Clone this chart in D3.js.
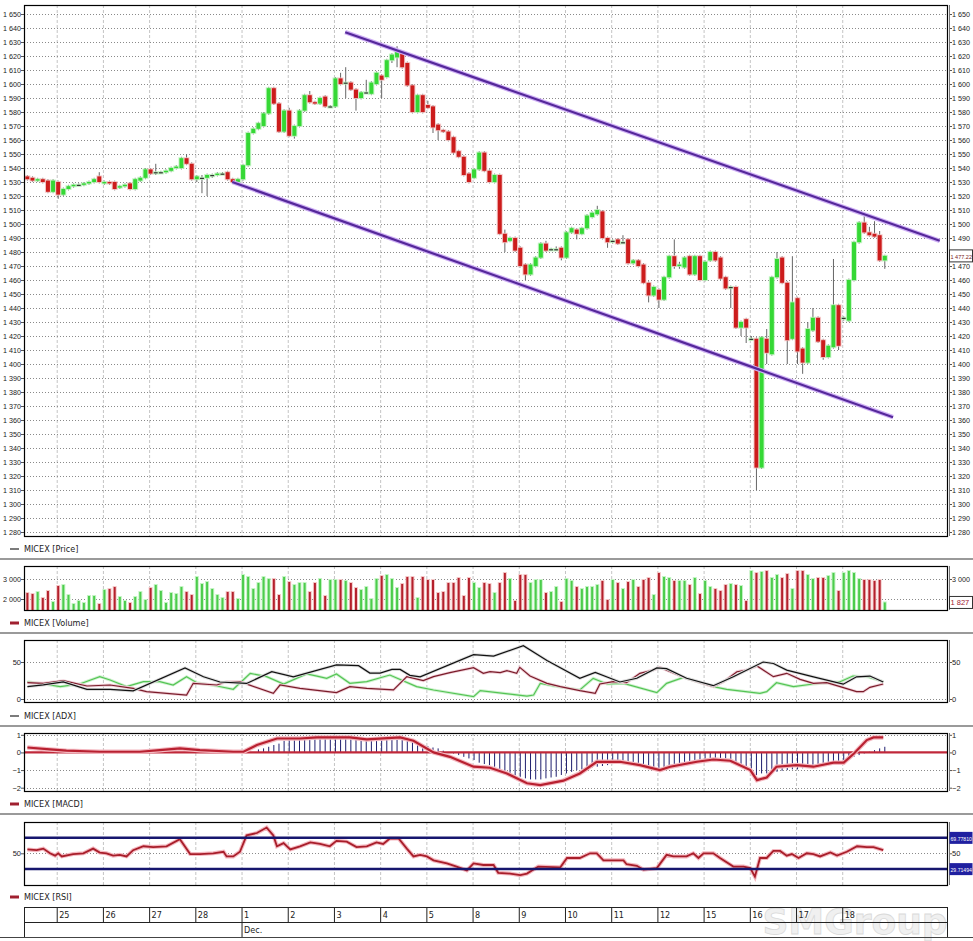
<!DOCTYPE html>
<html>
<head>
<meta charset="utf-8">
<script src="https://cdn.jsdelivr.net/npm/d3@7"></script>
<style>
  body { margin: 0; background: #fff; }
  text { font-family: "Liberation Sans Narrow", "DejaVu Sans Condensed", "Liberation Sans", sans-serif; font-size: 9px; fill: #222; }
  .tick text, .side text { font-family: "Liberation Sans", sans-serif; font-size: 7.5px; }
</style>
</head>
<body>
<svg id="chart" width="973" height="941"></svg>
<script>
// ---- data (index = hourly bar, 9 bars per day) ----
const dayLabels = ['25', '26', '27', '28', '1', '2', '3', '4', '5', '8', '9', '10', '11', '12', '15', '16', '17', '18'];
const dayStart = [6, 15, 24, 33, 42, 51, 60, 69, 78, 87, 96, 105, 114, 123, 132, 141, 150, 159];
const monthLabels = [{ label: 'Dec.', start: 42 }];

// [open, high, low, close]
const candles = [
  [1534,1535,1531,1532],[1533,1534,1530,1531],[1531,1533,1530,1532],[1532,1533,1529,1530],[1531,1532,1522,1523],
  [1523,1532,1522,1531],[1530,1531,1518,1521],[1521,1526,1520,1525],[1525,1528,1524,1527],[1527,1529,1526,1528],
  [1528,1529,1527,1528],[1528,1530,1527,1529],[1529,1531,1528,1530],[1530,1533,1529,1532],[1534,1537,1529,1530],
  [1529,1531,1528,1530],[1530,1531,1528,1529],[1530,1531,1524,1525],[1526,1528,1525,1527],[1527,1529,1526,1528],
  [1529,1530,1524,1525],[1525,1533,1524,1532],[1531,1534,1530,1533],[1533,1540,1532,1539],[1539,1540,1535,1536],
  [1537,1543,1535,1537],[1537,1538,1536,1537],[1537,1539,1536,1538],[1538,1541,1537,1540],[1540,1542,1539,1541],
  [1540,1548,1539,1547],[1547,1550,1542,1543],[1543,1544,1531,1532],[1532,1535,1530,1534],[1533,1535,1522,1533],
  [1533,1536,1520,1535],[1535,1536,1533,1535],[1535,1537,1534,1536],[1536,1537,1535,1536],[1537,1538,1531,1532],
  [1532,1533,1529,1530],[1530,1533,1529,1532],[1532,1543,1531,1542],[1542,1566,1541,1565],[1565,1569,1564,1568],
  [1568,1573,1567,1572],[1570,1580,1569,1579],[1579,1598,1578,1597],[1597,1598,1585,1586],[1586,1587,1565,1566],
  [1566,1582,1565,1581],[1581,1583,1562,1563],[1563,1571,1561,1570],[1570,1582,1569,1581],[1581,1593,1580,1592],
  [1592,1595,1586,1587],[1587,1588,1585,1586],[1586,1591,1585,1590],[1591,1592,1583,1584],[1584,1585,1583,1584],
  [1584,1605,1583,1604],[1604,1608,1599,1600],[1601,1612,1590,1601],[1601,1602,1595,1596],[1596,1597,1581,1590],
  [1590,1595,1589,1594],[1594,1603,1593,1594],[1593,1602,1592,1601],[1600,1609,1599,1608],[1606,1607,1590,1603],
  [1605,1618,1604,1617],[1617,1622,1615,1621],[1619,1627,1612,1624],[1623,1624,1611,1612],[1615,1616,1598,1599],
  [1599,1600,1579,1580],[1580,1593,1579,1592],[1592,1593,1579,1580],[1585,1588,1582,1583],[1584,1585,1565,1569],
  [1571,1572,1560,1567],[1567,1568,1565,1566],[1566,1567,1559,1560],[1562,1563,1550,1551],[1552,1553,1547,1548],
  [1548,1549,1534,1535],[1536,1537,1529,1530],[1533,1540,1532,1539],[1539,1552,1538,1551],[1551,1552,1537,1538],
  [1538,1539,1529,1530],[1530,1536,1529,1535],[1535,1536,1492,1493],[1493,1496,1480,1487],[1488,1491,1487,1490],
  [1490,1491,1480,1481],[1483,1484,1469,1470],[1471,1472,1460,1464],[1464,1472,1463,1471],[1470,1477,1469,1476],
  [1476,1487,1475,1486],[1486,1488,1480,1481],[1482,1483,1481,1482],[1482,1484,1481,1482],[1483,1484,1474,1476],
  [1476,1495,1475,1494],[1494,1498,1493,1497],[1496,1497,1489,1493],[1493,1498,1492,1497],[1497,1507,1496,1506],
  [1505,1509,1504,1508],[1507,1513,1506,1510],[1509,1510,1489,1490],[1490,1491,1483,1487],[1488,1489,1486,1488],
  [1489,1490,1485,1486],[1487,1492,1486,1487],[1489,1490,1471,1472],[1472,1475,1471,1474],[1474,1475,1469,1470],
  [1471,1472,1457,1458],[1458,1459,1444,1449],[1449,1456,1448,1455],[1453,1454,1440,1446],[1446,1463,1445,1462],
  [1462,1478,1461,1477],[1477,1489,1468,1470],[1470,1473,1468,1471],[1469,1477,1468,1476],[1477,1478,1463,1464],
  [1464,1478,1463,1477],[1477,1478,1459,1460],[1460,1474,1459,1473],[1474,1481,1473,1480],[1480,1481,1473,1474],
  [1476,1477,1460,1461],[1462,1463,1453,1454],[1455,1456,1440,1455],[1455,1456,1425,1426],[1426,1431,1420,1430],
  [1432,1433,1415,1426],[1418,1420,1417,1418],[1418,1419,1310,1326],[1326,1420,1325,1419],[1418,1425,1400,1408],
  [1407,1463,1406,1462],[1462,1480,1461,1475],[1476,1477,1457,1458],[1458,1459,1400,1417],[1418,1477,1417,1444],
  [1447,1448,1400,1409],[1411,1412,1393,1401],[1401,1430,1400,1425],[1424,1440,1423,1433],[1433,1434,1415,1416],
  [1417,1418,1403,1405],[1405,1414,1404,1413],[1412,1475,1411,1442],[1442,1443,1410,1413],[1433,1434,1431,1433],
  [1431,1461,1430,1460],[1460,1488,1459,1487],[1487,1502,1486,1501],[1501,1506,1493,1494],[1494,1498,1491,1492],
  [1493,1502,1490,1491],[1492,1495,1473,1474],[1474,1478,1468,1477.22]
];

const volume = [
  2300,2250,2350,2050,2400,1850,2650,2700,2200,1750,1900,1800,2150,2150,1750,2450,2500,2600,2100,1900,
  1800,2100,2350,1950,2550,2700,2400,1800,2300,2250,2600,2350,2200,3100,2750,2850,2500,2200,2050,2350,
  2350,2000,3200,3100,2500,2800,3100,3000,3000,2200,3100,2850,2700,2800,2800,2350,2800,3000,2150,2950,
  2950,2950,2900,2800,2550,2450,2600,2000,3000,3150,3200,3000,2550,2750,3100,3100,2050,3100,2950,2950,
  2300,2350,2800,2800,3050,2150,3050,2800,2550,2800,2750,2300,2800,3300,3000,1900,3200,3200,2800,2950,
  2950,2300,2350,2600,1850,3000,2900,2600,2500,2600,2600,2700,2900,1950,2950,2800,2500,2850,2950,2600,
  2950,3050,2200,3300,3100,3050,2900,2900,2900,2700,3050,2250,2900,2600,2500,2400,2700,2750,2700,2650,
  1900,3400,3300,3350,3400,3050,3200,3050,3250,2500,3400,3400,3200,3000,3050,3050,3150,3300,2400,3300,
  3400,3300,3000,2950,2950,2900,2950,1827
];

// indicator lines as [bar index, value] breakpoints
const adx = [[0,16.7],[3.1,19],[7,23],[11.6,13],[16.1,13],[20.6,11],[30.7,42],[34.3,30],[37.5,23],[42.7,21],
  [47.6,37],[51.8,30],[60.2,46],[64.5,45],[66.7,35],[68.7,35],[71,40],[72.6,40],[74.5,32],[76.5,30],[86.9,60],
  [90.8,58],[96.6,72],[101.2,52],[107.6,28],[110.6,36],[115.4,23],[118.7,28],[122.6,42],[124.5,41],[128.4,28],
  [133.6,18],[137.5,30],[143.3,50],[145.3,48],[147.9,39],[153.1,30],[158.9,20],[161.5,30],[164.1,31],[166.7,23]];
const plusDI = [[0,23.4],[3.1,20.3],[6.4,16.7],[10.2,20.3],[14.1,30.2],[16.1,25.7],[19.3,16.7],[22.6,23.4],
  [25.8,23.4],[28.4,18.9],[31,30.2],[33,22],[36.9,17.6],[40.1,13.1],[43.4,34.7],[46.6,30.2],[49.9,20.3],
  [54.4,34],[56.4,31],[58.3,27.9],[60.2,33.8],[62.8,21.2],[66.1,23.4],[70.6,32.4],[75.8,16.7],[79.1,12.2],
  [86.9,3.2],[88.2,11.3],[97.3,4],[98.6,5.4],[99.9,21.2],[102.5,17.6],[107.6,12.2],[110.2,27.9],[112.9,20.3],
  [116.1,21.2],[122.6,8.6],[124.5,21.2],[127.8,29.3],[133.6,16.7],[136.2,13.1],[142.7,7.7],[144,9.9],
  [145.9,22],[149.2,16.7],[153.1,20.3],[158.3,23.4],[160.8,31],[163.5,30.2],[166.7,23.4]];
const minusDI = [[0,22],[3.1,21.2],[7,24.8],[11.6,17.6],[16.1,18.9],[20.6,14.4],[23.2,9.9],[31,5.4],[32.3,21.2],
  [36.9,18.9],[38.8,23.4],[41.4,23.4],[47.9,7.7],[49.2,18.9],[53.1,14.4],[60.2,8.6],[62.8,16.7],[66.1,14.4],
  [71.3,12.2],[73.9,30.2],[77.1,24.8],[79.1,30.2],[82.3,35.6],[86.9,42.3],[88.8,34.7],[90.1,36.9],[92.1,35.6],
  [93.4,38.3],[95.3,34.7],[95.9,42.8],[97.9,31.1],[101.2,21.2],[103.8,16.7],[107.6,11.3],[110.6,7.7],
  [111.5,20.3],[114.1,23.4],[116.7,22],[119.3,34.7],[121.9,39.2],[123.2,42.8],[125.2,36.9],[128.4,27.9],
  [133.6,16.7],[135.6,23.4],[138.2,36.9],[140.1,39.2],[142.1,44.6],[145.3,30.2],[147.9,34.7],[150.5,26.6],
  [153.1,21.2],[155.7,22],[158.3,16.7],[161.5,9.9],[162.8,9.9],[164.1,15.8],[166.7,20.3]];

const macdLine = [[0,0.28],[4.4,0.17],[7.6,0.1],[14.1,0.04],[21.9,0.04],[25.8,0.13],[29.7,0.23],[33.6,0.13],
  [40.1,0.04],[42.1,0.04],[44.7,0.42],[48.6,0.79],[53.1,0.79],[56.4,0.85],[62.8,0.85],[66.1,0.74],[72.6,0.85],
  [75.2,0.66],[79.1,0],[82.3,-0.25],[86.9,-0.81],[90.1,-0.87],[93.4,-1.19],[97.3,-1.75],[99.9,-1.85],
  [104.4,-1.6],[107.6,-1.19],[110.9,-0.53],[115.4,-0.53],[119.3,-0.72],[123.2,-1.0],[125.2,-0.81],
  [130.4,-0.53],[133.6,-0.4],[136.9,-0.47],[140.8,-1.0],[142.1,-1.57],[144,-1.42],[145.9,-0.81],
  [149.8,-0.72],[153.1,-0.81],[157,-0.58],[159,-0.58],[161,-0.06],[163.5,0.7],[164.8,0.85],[166.7,0.85]];
const macdHist = [
  0,0,0,0,0,0,0,0,0,0,0,0,0,0,0,0,0,0,0,0,0,0,0,0,0,0,0,0,0,0,0,0,0,0,0,0,0,0,0,0,0,0,0,0,0,
  0.17,0.23,0.32,0.42,0.5,0.66,0.7,0.74,0.74,0.8,0.8,0.85,0.8,0.78,0.8,0.85,0.85,0.82,0.8,0.76,
  0.75,0.78,0.8,0.8,0.8,0.82,0.85,0.85,0.8,0.7,0.6,0.5,0.47,0.36,0.28,0.23,0.1,0,-0.06,-0.15,
  -0.25,-0.34,-0.43,-0.58,-0.66,-0.72,-0.81,-1.0,-1.1,-1.19,-1.28,-1.38,-1.47,-1.53,-1.53,-1.53,-1.47,-1.42,-1.38,-1.28,
  -1.19,-1.1,-1.0,-0.96,-0.9,-0.85,-0.81,-0.77,-0.72,-0.66,-0.62,-0.62,-0.66,-0.72,-0.77,-0.85,-0.9,-0.96,-1.0,-0.9,
  -0.81,-0.77,-0.72,-0.66,-0.62,-0.58,-0.53,-0.53,-0.47,-0.47,-0.47,-0.53,-0.58,-0.66,-0.77,-0.85,-0.96,-1.28,-1.19,-1.19,
  -1.15,-1.1,-1.04,-1.0,-0.96,-0.96,-0.9,-0.85,-0.81,-0.77,-0.72,-0.66,-0.58,-0.53,-0.43,-0.34,-0.25,-0.15,-0.06,0.04,
  0.13,0.23,0.32
];

const rsi = [[0,55],[1.8,54],[3.1,56],[4.4,50],[5.4,47],[6,50],[6.7,46],[8.9,49],[10.9,50],[12.8,56],[14.1,51],
  [15.4,50],[16.7,47],[18,48],[19.3,46],[20.6,54],[22.6,59],[24.5,58],[27.1,59],[29.7,68],[31.7,49],[33.6,49],
  [36.2,50],[38.2,52],[38.8,46],[40.1,46],[41.4,52],[42.7,73],[44.7,76],[46.6,83],[47.9,73],[48.6,59],[49.9,63],
  [51.2,55],[53.1,59],[55.1,64],[57,62],[58.9,59],[60.2,66],[62.2,65],[64.1,58],[66.1,59],[68,64],[69.3,62],
  [70.6,69],[72.3,69],[73.9,56],[75.2,46],[76.5,48],[77.8,46],[79.1,41],[81.7,37],[83.6,33],[85.6,28],[86.9,37],
  [88.8,35],[90.8,35],[91.7,25],[94,24],[96,22],[97.3,24],[99.5,33],[103.8,32],[105.1,44],[107.6,44],[109.6,50],
  [110.9,50],[112.2,41],[116.1,41],[116.7,36],[118.7,34],[120,29],[122.6,31],[124.5,48],[125.8,46],[128.4,46],
  [129.7,50],[130.7,44],[131.7,50],[133.6,50],[134.9,44],[137.5,33],[139.5,33],[140.8,31],[141.7,20],[142.7,44],
  [144,44],[145.3,53],[146.6,53],[147.9,47],[148.9,49],[150.2,44],[151.8,50],[153.1,49],[154.4,46],[156.4,51],
  [157.7,47],[159.6,52],[161.6,59],[163.5,58],[164.8,58],[166.7,54]];
const rsiLevels = [69.7781, 29.71494];
const rsiLevelLabels = ['69.77810', '29.71494'];

// channel lines [bar index, price]
const channelUpper = [[61.9, 1637], [177.7, 1488]];
const channelLower = [[39.9, 1530], [168.6, 1362]];

const priceTicks = d3.range(1280, 1651, 10);
const volumeTicks = [2000, 3000];
const adxTicks = [0, 50];
const macdTicks = [-2, -1, 0, 1];
const rsiTicks = [50];

// ---- layout ----
const L = 24, R = 947, AX = 949;
const locale = d3.formatLocale({ decimal: '.', thousands: ' ', grouping: [3], currency: ['', ''] });
const fmt = locale.format(',');
const svg = d3.select('#chart');
const x = d3.scaleLinear().domain([0, 167]).range([27.4, 884.8]);
const dayX = i => x(i) - 1;

const lastClose = candles[candles.length - 1][3];
const lastVol = volume[volume.length - 1];

const panes = {
  price: { top: 5, bottom: 536, y: d3.scaleLinear().domain([1280, 1650]).range([532, 14]), ticks: priceTicks, boxAt: lastClose },
  vol: { top: 566, bottom: 610, y: d3.scaleLinear().domain([2000, 3000]).range([599, 579]), ticks: volumeTicks, boxAt: lastVol },
  adx: { top: 640, bottom: 702, y: d3.scaleLinear().domain([0, 50]).range([699, 662]), ticks: adxTicks },
  macd: { top: 733, bottom: 791, y: d3.scaleLinear().domain([-2, 1]).range([787.7, 734.8]), ticks: macdTicks },
  rsi: { top: 822, bottom: 885, y: d3.scaleLinear().domain([30, 70]).range([868.9, 837.7]), ticks: rsiTicks }
};

// shrink the font of a label until it fits the room next to the axis
function fit(sel, maxW) {
  sel.each(function() {
    const w = this.getComputedTextLength();
    if (w > maxW) {
      const fs = parseFloat(getComputedStyle(this).fontSize);
      d3.select(this).style('font-size', (fs * maxW / w).toFixed(2) + 'px');
    }
  });
}

function drawPaneFrame(p) {
  const g = svg.append('g');
  // vertical day grid
  g.selectAll('.vg').data(dayStart).enter().append('line')
    .attr('x1', d => dayX(d)).attr('x2', d => dayX(d))
    .attr('y1', p.top).attr('y2', p.bottom)
    .attr('stroke', '#c4c4c4').attr('stroke-dasharray', '3,2').attr('stroke-width', 1);
  // horizontal dotted grid
  g.selectAll('.hg').data(p.ticks).enter().append('line')
    .attr('x1', L).attr('x2', R)
    .attr('y1', d => Math.round(p.y(d)) + 0.5).attr('y2', d => Math.round(p.y(d)) + 0.5)
    .attr('stroke', '#8a8a8a').attr('stroke-dasharray', '1,2').attr('stroke-width', 1);
  // axes; the right labels under the value box stay hidden like in the terminal
  const rightTicks = p.ticks.filter(t => p.boxAt === undefined || Math.abs(p.y(t) - p.y(p.boxAt)) > 7);
  const left = svg.append('g').attr('transform', `translate(${L},0)`)
    .call(d3.axisLeft(p.y).tickValues(p.ticks).tickFormat(fmt).tickSize(3).tickSizeOuter(0));
  const right = svg.append('g').attr('transform', `translate(${AX},0)`)
    .call(d3.axisRight(p.y).tickValues(rightTicks).tickFormat(fmt).tickSize(3).tickSizeOuter(0));
  [left, right].forEach(a => {
    a.select('.domain').remove();
    a.attr('font-size', null).attr('font-family', null);
    a.selectAll('line').attr('stroke', '#555');
    a.selectAll('text').attr('fill', '#222');
  });
  left.selectAll('text').attr('x', -3);
  right.selectAll('text').attr('x', 3);
  fit(left.selectAll('text'), 18);
  fit(right.selectAll('text'), 18);
  // right axis line
  svg.append('line').attr('x1', AX + 0.5).attr('x2', AX + 0.5)
    .attr('y1', p.top).attr('y2', p.bottom).attr('stroke', '#777');
  return g;
}

function drawBorder(p) {
  svg.append('rect').attr('x', L + 0.5).attr('y', p.top + 0.5)
    .attr('width', R - L).attr('height', p.bottom - p.top)
    .attr('fill', 'none').attr('stroke', '#000').attr('stroke-width', 1.2);
}

function legend(y, label, color, thick) {
  svg.append('line').attr('x1', 10).attr('x2', 19).attr('y1', y).attr('y2', y)
    .attr('stroke', color).attr('stroke-width', thick ? 3 : 1.2);
  svg.append('text').attr('x', 24).attr('y', y + 3).text(label);
}

function separator(y) {
  svg.append('line').attr('x1', 0).attr('x2', 973).attr('y1', y).attr('y2', y)
    .attr('stroke', '#9a9a9a').attr('stroke-width', 2);
}

function sideBox(y, label, fill, textColor, stroke) {
  const g = svg.append('g').attr('class', 'side');
  g.append('rect').attr('x', AX + 0.5).attr('y', y - 6).attr('width', 23).attr('height', 12)
    .attr('fill', fill).attr('stroke', stroke || 'none');
  const t = g.append('text').attr('x', AX + 1.5).attr('y', y + 3).style('fill', textColor).text(label);
  fit(t, 21.5);
}

// ---- price pane ----
const pp = panes.price;
drawPaneFrame(pp);
const cg = svg.append('g');
candles.forEach((c, i) => {
  const [o, h, l, cl] = c;
  const up = cl >= o;
  const cx = x(i);
  cg.append('line').attr('x1', cx).attr('x2', cx).attr('y1', pp.y(h)).attr('y2', pp.y(l))
    .attr('stroke', '#666').attr('stroke-width', 1);
  const yTop = pp.y(Math.max(o, cl)), yBot = pp.y(Math.min(o, cl));
  const hgt = Math.max(yBot - yTop, 1.2);
  cg.append('rect').attr('x', cx - 3).attr('y', yTop - 1).attr('width', 6).attr('height', hgt + 2)
    .attr('fill', up ? '#b8f2b8' : '#f2c0c0').attr('opacity', 0.8);
  cg.append('rect').attr('x', cx - 2).attr('y', yTop).attr('width', 4).attr('height', hgt)
    .attr('fill', Math.abs(cl - o) < 0.5 ? '#333' : (up ? '#35d835' : '#cc1c1c'));
});

// channel
const line = d3.line().x(d => x(d[0])).y(d => pp.y(d[1]));
[channelUpper, channelLower].forEach(ch => {
  svg.append('path').attr('d', line(ch)).attr('stroke', '#cfb0f5').attr('stroke-width', 4.5).attr('fill', 'none');
  svg.append('path').attr('d', line(ch)).attr('stroke', '#55289a').attr('stroke-width', 2.2).attr('fill', 'none');
});
drawBorder(pp);
sideBox(pp.y(lastClose), locale.format(',.2f')(lastClose), '#fff', '#7a1a1a', '#333');

legend(549, 'MICEX [Price]', '#222', false);
separator(559);

// ---- volume pane ----
const vp = panes.vol;
drawPaneFrame(vp);
const vg = svg.append('g');
volume.forEach((v, i) => {
  const up = candles[i][3] >= candles[i][0];
  const cx = x(i);
  vg.append('rect').attr('x', cx - 2).attr('y', vp.y(v) - 1).attr('width', 4).attr('height', vp.bottom - vp.y(v) + 1)
    .attr('fill', up ? '#c4f4c4' : '#f4c8c8');
  vg.append('rect').attr('x', cx - 1).attr('y', vp.y(v)).attr('width', 2).attr('height', vp.bottom - vp.y(v))
    .attr('fill', up ? '#4ccc4c' : '#b4202c');
});
drawBorder(vp);
sideBox(vp.y(lastVol), fmt(lastVol), '#fff', '#a02030', '#333');

legend(623, 'MICEX [Volume]', '#a02030', true);
separator(633);

// ---- ADX pane ----
const ap = panes.adx;
drawPaneFrame(ap);
const aline = d3.line().x(d => x(d[0])).y(d => ap.y(d[1]));
[[plusDI, '#55c455', '#d0f2d0'], [minusDI, '#7a1c2a', '#f0d0d8'], [adx, '#111', '#dddddd']].forEach(([data, col, glow]) => {
  svg.append('path').attr('d', aline(data)).attr('fill', 'none').attr('stroke', glow).attr('stroke-width', 3);
  svg.append('path').attr('d', aline(data)).attr('fill', 'none').attr('stroke', col).attr('stroke-width', 1.2);
});
drawBorder(ap);
legend(716, 'MICEX [ADX]', '#222', false);
separator(726);

// ---- MACD pane ----
const mp = panes.macd;
drawPaneFrame(mp);
svg.append('g').selectAll('line').data(macdHist.map((v, i) => [i, v]).filter(d => d[1] !== 0)).enter().append('line')
  .attr('x1', d => x(d[0])).attr('x2', d => x(d[0]))
  .attr('y1', mp.y(0)).attr('y2', d => mp.y(d[1]))
  .attr('stroke', '#1e1e6e').attr('stroke-width', 1);
svg.append('line').attr('x1', L).attr('x2', R).attr('y1', mp.y(0)).attr('y2', mp.y(0))
  .attr('stroke', '#c0283a').attr('stroke-width', 2.2);
const mline = d3.line().x(d => x(d[0])).y(d => mp.y(d[1]));
svg.append('path').attr('d', mline(macdLine)).attr('fill', 'none').attr('stroke', '#f4b8c0').attr('stroke-width', 4.5);
svg.append('path').attr('d', mline(macdLine)).attr('fill', 'none').attr('stroke', '#b82030').attr('stroke-width', 2.2);
drawBorder(mp);
legend(804, 'MICEX [MACD]', '#a02030', true);
separator(814);

// ---- RSI pane ----
const rp = panes.rsi;
drawPaneFrame(rp);
const rline = d3.line().x(d => x(d[0])).y(d => rp.y(d[1]));
svg.append('path').attr('d', rline(rsi)).attr('fill', 'none').attr('stroke', '#f4b8c0').attr('stroke-width', 4);
svg.append('path').attr('d', rline(rsi)).attr('fill', 'none').attr('stroke', '#a81e2a').attr('stroke-width', 1.8);
rsiLevels.forEach((lv, k) => {
  svg.append('line').attr('x1', L).attr('x2', R).attr('y1', rp.y(lv)).attr('y2', rp.y(lv))
    .attr('stroke', '#16166e').attr('stroke-width', 2.5);
  sideBox(rp.y(lv), rsiLevelLabels[k], '#2020a0', '#fff');
});
drawBorder(rp);
legend(897, 'MICEX [RSI]', '#a02030', true);

// ---- date axis ----
// watermark first so the day labels sit on top of it
svg.append('text').attr('x', 855).attr('y', 934).attr('text-anchor', 'middle')
  .style('font-family', '"DejaVu Sans", sans-serif').style('font-size', '36px').style('font-weight', 'bold')
  .style('fill', '#f0f0f0').style('stroke', '#dadada').style('stroke-width', 0.8)
  .text('SMGroup');

const dg = svg.append('g');
dg.append('rect').attr('x', L + 0.5).attr('y', 907.5).attr('width', R - L).attr('height', 30)
  .attr('fill', 'none').attr('stroke', '#222');
dg.append('line').attr('x1', L).attr('x2', R).attr('y1', 922.5).attr('y2', 922.5).attr('stroke', '#222');
dg.append('line').attr('x1', 0).attr('x2', 973).attr('y1', 937.5).attr('y2', 937.5).attr('stroke', '#444');
dayStart.forEach((d, k) => {
  dg.append('line').attr('x1', dayX(d)).attr('x2', dayX(d)).attr('y1', 908).attr('y2', 922).attr('stroke', '#222');
  dg.append('text').attr('x', dayX(d) + 2).attr('y', 918).text(dayLabels[k]);
});
monthLabels.forEach(m => {
  dg.append('line').attr('x1', dayX(m.start)).attr('x2', dayX(m.start)).attr('y1', 923).attr('y2', 937).attr('stroke', '#222');
  dg.append('text').attr('x', dayX(m.start) + 2).attr('y', 933).text(m.label);
});
</script>
</body>
</html>
